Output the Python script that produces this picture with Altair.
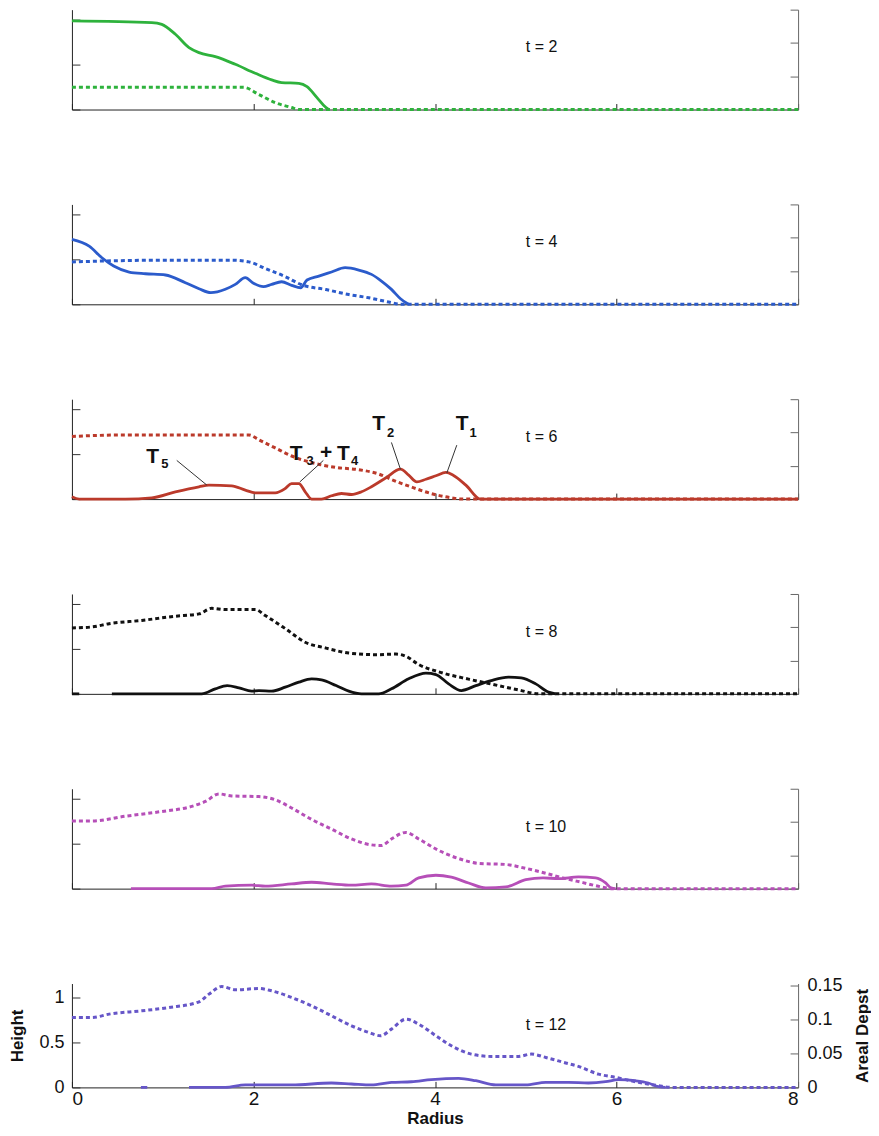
import altair as alt
import pandas as pd

FONT_N = "Liberation Sans"
FONT = "Liberation Sans"

# ---------------- data (Radius, value) ----------------
# t = 2
t2_h_r = [0, 0.88, 0.99, 1.14, 1.29, 1.40, 1.58, 1.80, 2.02, 2.20, 2.31, 2.50, 2.59, 2.70, 2.80, 2.83]
t2_h_v = [0.986, 0.967, 0.948, 0.837, 0.689, 0.633, 0.589, 0.503, 0.403, 0.330, 0.300, 0.292, 0.256, 0.133, 0.022, 0.0]
t2_d_r = [0, 1.89, 2.06, 2.24, 2.42, 2.50, 8.0]
t2_d_v = [0.0334, 0.0334, 0.0225, 0.0103, 0.003, 0.0, 0.0]

# t = 4
t4_h_r = [0, 0.19, 0.33, 0.46, 0.63, 0.81, 1.03, 1.25, 1.40, 1.53, 1.69, 1.80, 1.91, 2.00, 2.11, 2.20,
          2.31, 2.42, 2.52, 2.59, 2.72, 2.86, 3.01, 3.16, 3.30, 3.41, 3.52, 3.62, 3.69, 3.71]
t4_h_v = [0.723, 0.648, 0.518, 0.426, 0.359, 0.340, 0.326, 0.240, 0.173, 0.129, 0.167, 0.222, 0.296, 0.234,
          0.196, 0.222, 0.251, 0.211, 0.184, 0.270, 0.314, 0.359, 0.407, 0.381, 0.333, 0.259, 0.166, 0.062,
          0.011, 0.0]
t4_d_r = [0, 0.96, 1.76, 1.95, 2.13, 2.35, 2.53, 2.80, 3.05, 3.27, 3.49, 3.63, 8.0]
t4_d_v = [0.0637, 0.0662, 0.0662, 0.0637, 0.0538, 0.0416, 0.0294, 0.0221, 0.0147, 0.0098, 0.0034, 0.0, 0.0]

# t = 6
t6_h_r = [0, 0.08, 0.59, 0.88, 1.14, 1.40, 1.51, 1.76, 1.91, 2.02, 2.24, 2.35, 2.42, 2.50, 2.57, 2.64,
          2.75, 2.86, 2.97, 3.08, 3.19, 3.30, 3.46, 3.62, 3.71, 3.80, 3.90, 4.01, 4.12, 4.20, 4.34, 4.50, 8.0]
t6_h_v = [0.026, 0, 0, 0.014, 0.081, 0.137, 0.155, 0.148, 0.100, 0.070, 0.070, 0.118, 0.173, 0.173, 0.081,
          0, 0, 0.037, 0.062, 0.051, 0.081, 0.137, 0.237, 0.333, 0.266, 0.192, 0.221, 0.259, 0.296, 0.266,
          0.155, 0, 0]
t6_d_r = [0, 0.59, 1.95, 2.06, 2.24, 2.42, 2.64, 2.91, 3.16, 3.38, 3.52, 3.74, 3.96, 4.18, 4.29, 8.0]
t6_d_v = [0.0941, 0.0963, 0.0963, 0.0890, 0.0768, 0.0647, 0.0549, 0.0475, 0.0441, 0.0376, 0.0294, 0.0181,
          0.0082, 0.0019, 0, 0]

# t = 8
t8_h0_r = [0, 0.08]
t8_h0_v = [0, 0]
t8_h_r = [0.44, 1.43, 1.58, 1.71, 1.84, 1.98, 2.06, 2.20, 2.35, 2.50, 2.64, 2.75, 2.91, 3.05, 3.19, 3.38,
          3.52, 3.71, 3.90, 4.01, 4.15, 4.29, 4.45, 4.62, 4.81, 4.95, 5.11, 5.25, 5.33]
t8_h_v = [0, 0, 0.056, 0.092, 0.067, 0.030, 0.037, 0.030, 0.074, 0.130, 0.167, 0.156, 0.092, 0.030, 0, 0,
          0.056, 0.167, 0.230, 0.215, 0.111, 0.037, 0.092, 0.148, 0.185, 0.178, 0.111, 0.019, 0]
t8_d_r = [0, 0.22, 0.41, 0.77, 1.14, 1.40, 1.54, 1.69, 2.02, 2.13, 2.35, 2.57, 2.80, 3.05, 3.35, 3.57,
          3.68, 3.82, 4.07, 4.37, 4.62, 4.92, 5.14, 8.0]
t8_d_v = [0.0990, 0.1005, 0.1054, 0.1103, 0.1166, 0.1201, 0.1284, 0.1265, 0.1265, 0.1176, 0.0980, 0.0775,
          0.0687, 0.0613, 0.0588, 0.0598, 0.0564, 0.0441, 0.0319, 0.0221, 0.0147, 0.0059, 0, 0]

# t = 10
t10_h_r = [0.65, 1.54, 1.69, 1.98, 2.13, 2.42, 2.64, 2.86, 3.08, 3.30, 3.52, 3.68, 3.82, 4.01, 4.18, 4.37,
           4.56, 4.78, 5.00, 5.19, 5.36, 5.58, 5.77, 5.88, 5.94, 5.99]
t10_h_v = [0, 0, 0.027, 0.038, 0.027, 0.052, 0.071, 0.052, 0.038, 0.052, 0.027, 0.038, 0.119, 0.149, 0.127,
           0.063, 0.008, 0.019, 0.100, 0.120, 0.111, 0.130, 0.119, 0.063, 0.008, 0]
t10_d_r = [0, 0.22, 0.59, 0.96, 1.32, 1.47, 1.62, 1.76, 2.06, 2.24, 2.42, 2.64, 2.86, 3.08, 3.30, 3.41,
           3.52, 3.68, 3.82, 4.04, 4.26, 4.48, 4.78, 5.00, 5.22, 5.44, 5.63, 5.80, 5.96, 8.0]
t10_d_v = [0.1015, 0.1015, 0.1088, 0.1153, 0.1235, 0.1309, 0.1422, 0.1392, 0.1382, 0.1334, 0.1211, 0.1040,
           0.0893, 0.0746, 0.0657, 0.0647, 0.0746, 0.0844, 0.0746, 0.0574, 0.0452, 0.0379, 0.0363, 0.0304,
           0.0231, 0.0150, 0.0090, 0.0035, 0, 0]

# t = 12
t12_h0_r = [0.76, 0.83]
t12_h0_v = [0, 0]
t12_h_r = [1.29, 1.69, 1.91, 2.42, 2.86, 3.08, 3.30, 3.52, 3.74, 3.96, 4.26, 4.45, 4.67, 5.00, 5.22, 5.47,
           5.69, 5.88, 6.02, 6.21, 6.35, 6.46, 6.54]
t12_h_v = [0, 0, 0.027, 0.027, 0.049, 0.038, 0.027, 0.056, 0.063, 0.086, 0.100, 0.074, 0.027, 0.027, 0.056,
           0.056, 0.049, 0.063, 0.086, 0.074, 0.049, 0.008, 0]
t12_d_r = [0, 0.22, 0.41, 0.77, 1.07, 1.40, 1.51, 1.65, 1.80, 2.06, 2.20, 2.42, 2.64, 2.86, 3.08, 3.27,
           3.40, 3.52, 3.68, 3.82, 4.01, 4.18, 4.40, 4.62, 4.92, 5.06, 5.22, 5.44, 5.58, 5.80, 5.99, 6.24,
           6.46, 6.60, 8.0]
t12_d_v = [0.1029, 0.1029, 0.1079, 0.1128, 0.1176, 0.1260, 0.1373, 0.1485, 0.1437, 0.1456, 0.1422, 0.1324,
           0.1201, 0.1054, 0.0907, 0.0809, 0.0760, 0.0858, 0.1005, 0.0931, 0.0760, 0.0613, 0.0490, 0.0456,
           0.0456, 0.0490, 0.0441, 0.0360, 0.0309, 0.0196, 0.0147, 0.0074, 0.0025, 0, 0]

times = [2, 4, 6, 8, 10, 12]
colors = ["#2eb23c", "#2b5bcb", "#bb3a2b", "#111111", "#b64fb8", "#6656c8"]

# annotations of panel t = 6 (radius, height)
ann_big_txt = ["T", "T", "+", "T", "T", "T"]
ann_big_r = [0.89, 2.47, 2.80, 2.99, 3.38, 4.30]
ann_big_v = [0.47, 0.50, 0.51, 0.50, 0.84, 0.84]
ann_sub_txt = ["5", "3", "4", "2", "1"]
ann_sub_r = [1.025, 2.625, 3.115, 3.51, 4.42]
ann_sub_v = [0.39, 0.42, 0.42, 0.74, 0.74]
lead_r = [1.155, 2.77, 3.52, 4.24]
lead_v = [0.43, 0.43, 0.63, 0.60]
lead_r2 = [1.486, 2.51, 3.62, 4.13]
lead_v2 = [0.156, 0.19, 0.33, 0.29]


def seg_df(*segs):
    rows = []
    for i, (rs, vs) in enumerate(segs):
        for r, v in zip(rs, vs):
            rows.append({"r": r, "v": v, "seg": i})
    return pd.DataFrame(rows)


solid_data = [
    seg_df((t2_h_r, t2_h_v)),
    seg_df((t4_h_r, t4_h_v)),
    seg_df((t6_h_r, t6_h_v)),
    seg_df((t8_h0_r, t8_h0_v), (t8_h_r, t8_h_v)),
    seg_df((t10_h_r, t10_h_v)),
    seg_df((t12_h0_r, t12_h0_v), (t12_h_r, t12_h_v)),
]
dot_data = [
    seg_df((t2_d_r, t2_d_v)),
    seg_df((t4_d_r, t4_d_v)),
    seg_df((t6_d_r, t6_d_v)),
    seg_df((t8_d_r, t8_d_v)),
    seg_df((t10_d_r, t10_d_v)),
    seg_df((t12_d_r, t12_d_v)),
]

W = 727
XS = alt.Scale(domain=[0, 8], nice=False, zero=False)


def x_axis(show):
    kw = dict(values=[0, 2, 4, 6, 8], grid=False, domain=True, domainColor="#222", domainWidth=1,
              ticks=True, tickColor="#222", tickWidth=1, tickSize={"expr": "-6"},
              labels=show, title="Radius" if show else "")
    if show:
        kw.update(labelFont=FONT_N, labelFontSize=19, labelColor="#111", labelPadding=8,
                  titleFont=FONT, titleFontWeight="bold", titleFontSize=17, titleColor="#111",
                  titlePadding=2)
    return alt.Axis(**kw)


def left_axis(show, hmax):
    kw = dict(orient="left", values=[0, 0.5, 1], grid=False, domain=True, domainColor="#222",
              domainWidth=1, ticks=True, tickColor="#333", tickWidth=1, tickSize={"expr": "-8"},
              labels=show, format="~g", title="Height" if show else "")
    if show:
        kw.update(labelFont=FONT_N, labelFontSize=18, labelColor="#111", labelPadding=16,
                  titleFont=FONT, titleFontWeight="bold", titleFontSize=17, titleColor="#111",
                  titlePadding=12)
    return alt.Axis(**kw)


def right_axis(show, dmax):
    kw = dict(orient="right", values=[0, 0.05, 0.1, 0.15], grid=False, domain=True, domainColor="#666",
              domainWidth=1, ticks=True, tickColor="#666", tickWidth=1, tickSize={"expr": "-8"},
              labels=show, format="~g", title="Areal Depst" if show else "")
    if show:
        kw.update(labelFont=FONT_N, labelFontSize=18, labelColor="#111", labelPadding=17,
                  titleFont=FONT, titleFontWeight="bold", titleFontSize=17, titleColor="#111",
                  titlePadding=12, titleAngle=270, titleBaseline="top")
    return alt.Axis(**kw)


def panel(k):
    bottom = k == len(times) - 1
    H = 104 if bottom else 100
    hmax = H / 90.0
    dmax = H / 680.0 if bottom else 0.15
    color = colors[k]
    xa = x_axis(bottom)
    hs = alt.Scale(domain=[0, hmax], nice=False, zero=True)
    ds = alt.Scale(domain=[0, dmax], nice=False, zero=True)

    solid = alt.Chart(solid_data[k]).mark_line(
        color=color, strokeWidth=2.8, interpolate="monotone"
    ).encode(
        x=alt.X("r:Q", scale=XS, axis=xa),
        y=alt.Y("v:Q", scale=hs, axis=left_axis(bottom, hmax)),
        detail="seg:N",
    )
    dot = alt.Chart(dot_data[k]).mark_line(
        color=color, strokeWidth=3, strokeDash=[4, 3], interpolate="monotone"
    ).encode(
        x=alt.X("r:Q", scale=XS, axis=xa),
        y=alt.Y("v:Q", scale=ds, axis=right_axis(bottom, dmax)),
    )
    lab_df = pd.DataFrame({"r": [5.0], "v": [0.69], "txt": [f"t = {times[k]}"]})
    lab = alt.Chart(lab_df).mark_text(
        align="left", baseline="middle", font=FONT, fontSize=16, color="#111"
    ).encode(
        x=alt.X("r:Q", scale=XS, axis=xa),
        y=alt.Y("v:Q", scale=hs, axis=None),
        text="txt:N",
    )
    layers = [solid, dot, lab]
    if times[k] == 6:
        big = alt.Chart(pd.DataFrame({"r": ann_big_r, "v": ann_big_v, "txt": ann_big_txt})).mark_text(
            align="center", baseline="middle", font=FONT, fontWeight="bold", fontSize=21, color="#111"
        ).encode(
            x=alt.X("r:Q", scale=XS, axis=xa),
            y=alt.Y("v:Q", scale=hs, axis=None),
            text="txt:N",
        )
        sub = alt.Chart(pd.DataFrame({"r": ann_sub_r, "v": ann_sub_v, "txt": ann_sub_txt})).mark_text(
            align="center", baseline="middle", font=FONT, fontWeight="bold", fontSize=13, color="#111"
        ).encode(
            x=alt.X("r:Q", scale=XS, axis=xa),
            y=alt.Y("v:Q", scale=hs, axis=None),
            text="txt:N",
        )
        lead = alt.Chart(pd.DataFrame({"r": lead_r, "v": lead_v, "r2": lead_r2, "v2": lead_v2})).mark_rule(
            color="#333", strokeWidth=1
        ).encode(
            x=alt.X("r:Q", scale=XS, axis=xa),
            y=alt.Y("v:Q", scale=hs, axis=None),
            x2="r2:Q",
            y2="v2:Q",
        )
        layers += [lead, big, sub]
    return alt.layer(*layers).resolve_scale(y="independent").properties(width=W, height=H)


chart = alt.vconcat(*[panel(k) for k in range(len(times))], spacing=95, bounds="flush").properties(
    padding={"left": 0, "top": 0, "right": 0, "bottom": 0}
).configure_view(stroke="transparent")

chart.save("out.html", embed_options={"renderer": "svg", "actions": False})
